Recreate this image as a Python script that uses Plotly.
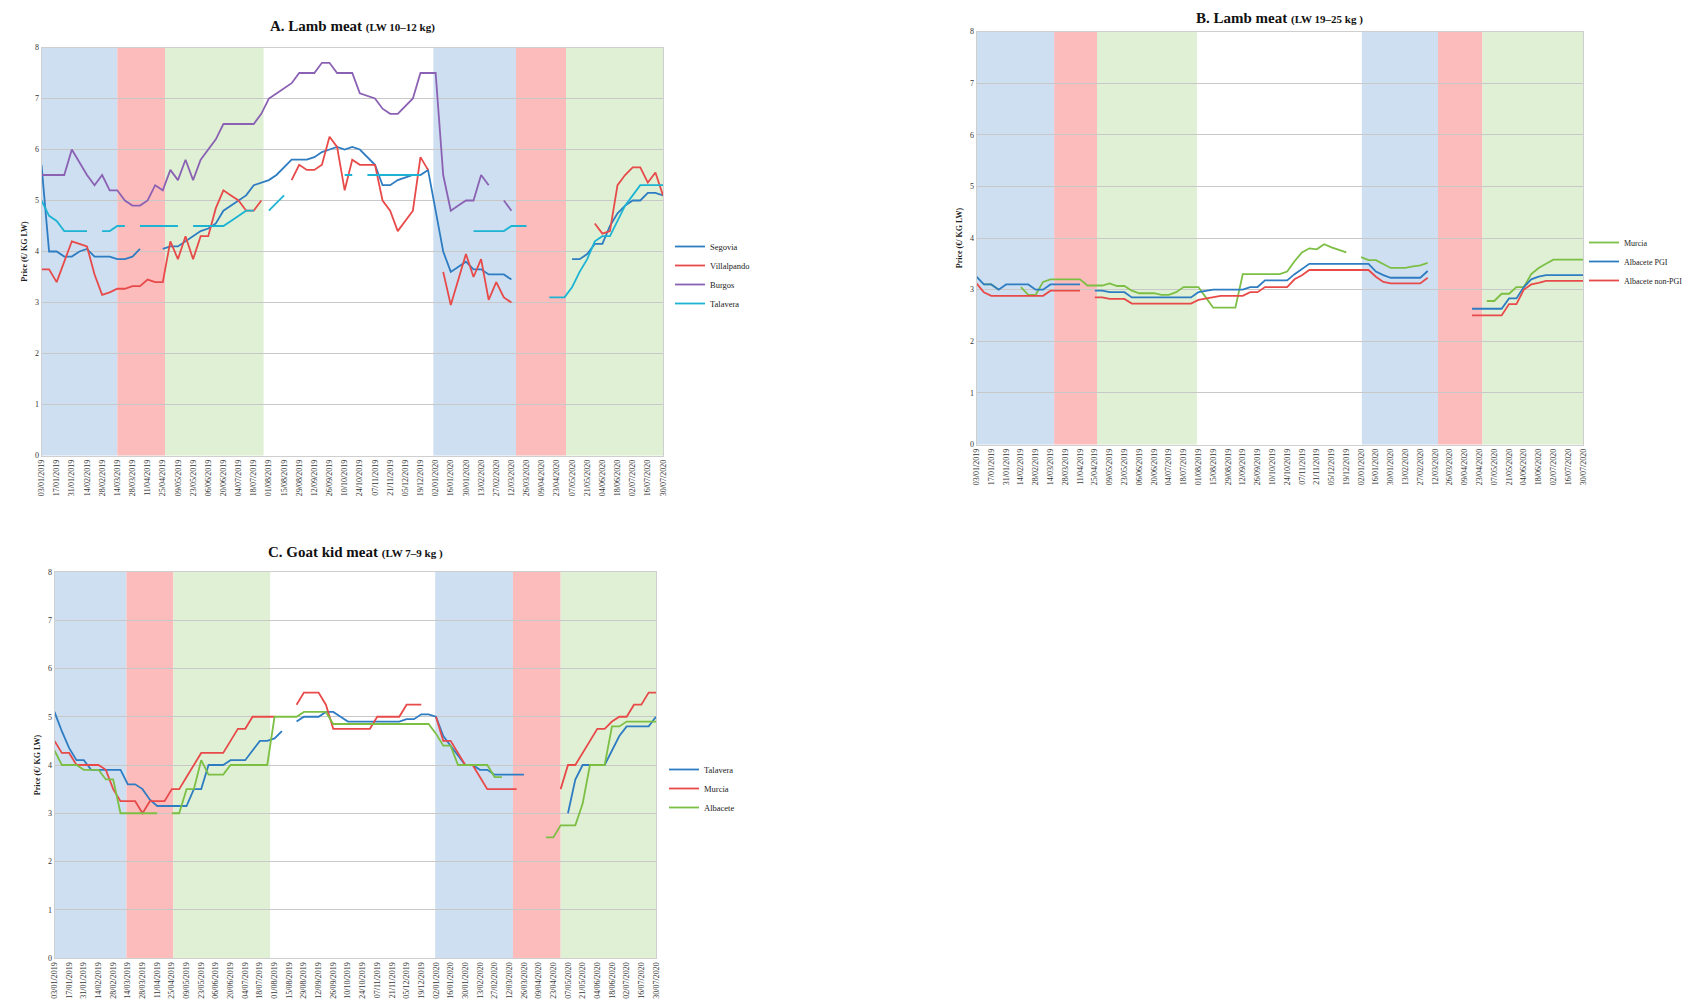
import datetime as dt
import plotly.graph_objects as go

N = 83
start = dt.date(2019, 1, 3)
weeks = list(range(N))
tick_idx = list(range(0, N, 2))
tick_text = [(start + dt.timedelta(weeks=i)).strftime("%d/%m/%Y") for i in tick_idx]

def series(pairs):
    out = [None] * N
    for a, vals in pairs:
        for k, v in enumerate(vals):
            out[a + k] = v
    return out

# ---------- Panel A: Lamb meat (LW 10-12 kg)
A_segovia = series([(0, [5.7, 4.0, 4.0, 3.9, 3.9, 4.0, 4.05, 3.9, 3.9, 3.9, 3.85, 3.85, 3.9, 4.05]),
                    (16, [4.05, 4.1, 4.1, 4.2, 4.3, 4.4, 4.45, 4.55, 4.8, 4.9, 5.0, 5.1, 5.3, 5.35, 5.4, 5.5, 5.65, 5.8, 5.8, 5.8,
                          5.85, 5.95, 6.0, 6.05, 6.0, 6.05, 6.0, 5.85, 5.7, 5.3, 5.3, 5.4, 5.45, 5.5, 5.5, 5.6, 4.8, 4.0, 3.6, 3.7,
                          3.8, 3.65, 3.65, 3.55, 3.55, 3.55, 3.45]),
                    (70, [3.85, 3.85, 3.95, 4.15, 4.15, 4.5, 4.75, 4.9, 5.0, 5.0, 5.15, 5.15, 5.1])])
A_villalpando = series([(0, [3.65, 3.65, 3.4, 3.8, 4.2, 4.15, 4.1, 3.55, 3.15, 3.2, 3.27, 3.27, 3.32, 3.32, 3.45, 3.4, 3.4, 4.2,
                             3.85, 4.3, 3.85, 4.3, 4.3, 4.85, 5.2, 5.1, 5.0, 4.8, 4.8, 5.0]),
                        (33, [5.4, 5.7, 5.6, 5.6, 5.7, 6.25, 6.05, 5.2, 5.8, 5.7, 5.7, 5.7, 5.0, 4.8, 4.4, 4.6, 4.8, 5.85, 5.6]),
                        (53, [3.6, 2.95, 3.45, 3.95, 3.5, 3.85, 3.05, 3.4, 3.1, 3.0]),
                        (73, [4.55, 4.35, 4.4, 5.3, 5.5, 5.65, 5.65, 5.35, 5.55, 5.1])])
A_burgos = series([(0, [5.5, 5.5, 5.5, 5.5, 6.0, 5.75, 5.5, 5.3, 5.5, 5.2, 5.2, 5.0, 4.9, 4.9, 5.0, 5.3, 5.2, 5.6, 5.4, 5.8,
                        5.4, 5.8, 6.0, 6.2, 6.5, 6.5, 6.5, 6.5, 6.5, 6.7, 7.0, 7.1, 7.2, 7.3, 7.5, 7.5, 7.5, 7.7, 7.7, 7.5,
                        7.5, 7.5, 7.1, 7.05, 7.0, 6.8, 6.7, 6.7, 6.85, 7.0, 7.5, 7.5, 7.5, 5.5, 4.8, 4.9, 5.0, 5.0, 5.5, 5.3]),
                   (61, [5.0, 4.8])])
A_talavera = series([(0, [5.0, 4.7, 4.6, 4.4, 4.4, 4.4, 4.4]), (8, [4.4, 4.4, 4.5, 4.5]),
                     (13, [4.5, 4.5, 4.5, 4.5, 4.5, 4.5]), (20, [4.5, 4.5, 4.5, 4.5, 4.5, 4.6, 4.7, 4.8, 4.8]),
                     (30, [4.8, 4.95, 5.1]), (40, [5.5, 5.5]), (43, [5.5, 5.5, 5.5, 5.5, 5.5, 5.5, 5.5, 5.5]),
                     (57, [4.4, 4.4, 4.4, 4.4, 4.4, 4.5, 4.5, 4.5]),
                     (67, [3.1, 3.1, 3.1, 3.3, 3.6, 3.85, 4.2, 4.3, 4.3, 4.6, 4.9, 5.1, 5.3, 5.3, 5.3, 5.3])])

# ---------- Panel B: Lamb meat (LW 19-25 kg)
B_murcia = series([(1, [3.1, 3.1, 3.0]),
                   (6, [3.05, 2.9, 2.9, 3.15, 3.2, 3.2, 3.2, 3.2, 3.2, 3.08, 3.08, 3.08, 3.12, 3.07, 3.07, 2.98, 2.93, 2.93,
                        2.93, 2.9, 2.9, 2.95, 3.05, 3.05, 3.05, 2.85, 2.65, 2.65, 2.65, 2.65, 3.3, 3.3, 3.3, 3.3, 3.3, 3.3,
                        3.35, 3.55, 3.72, 3.8, 3.78, 3.88, 3.82, 3.77, 3.72]),
                   (52, [3.63, 3.57, 3.57, 3.5, 3.42, 3.42, 3.42, 3.45, 3.47, 3.52]),
                   (69, [2.78, 2.78, 2.92, 2.92, 3.05, 3.05, 3.3, 3.42, 3.5, 3.58, 3.58, 3.58, 3.58, 3.58])])
B_pgi = series([(0, [3.25, 3.1, 3.1, 3.0, 3.1, 3.1, 3.1, 3.1, 3.0, 3.0, 3.1, 3.1, 3.1, 3.1, 3.1]),
                (16, [2.98, 2.98, 2.95, 2.95, 2.95, 2.85, 2.85, 2.85, 2.85, 2.85, 2.85, 2.85, 2.85, 2.85, 2.95, 2.97,
                      3.0, 3.0, 3.0, 3.0, 3.0, 3.05, 3.05, 3.18, 3.18, 3.18, 3.18, 3.3, 3.4, 3.5, 3.5, 3.5, 3.5, 3.5,
                      3.5, 3.5, 3.5, 3.5, 3.35, 3.28, 3.23, 3.23, 3.23, 3.23, 3.23, 3.36]),
                (67, [2.63, 2.63, 2.63, 2.63, 2.63, 2.83, 2.83, 3.05, 3.2, 3.25, 3.28, 3.28, 3.28, 3.28, 3.28, 3.28])])
B_nonpgi = series([(0, [3.12, 2.95, 2.88, 2.88, 2.88, 2.88, 2.88, 2.88, 2.88, 2.88, 2.98, 2.98, 2.98, 2.98, 2.98]),
                   (16, [2.85, 2.85, 2.82, 2.82, 2.82, 2.73, 2.73, 2.73, 2.73, 2.73, 2.73, 2.73, 2.73, 2.73, 2.8, 2.83,
                         2.85, 2.88, 2.88, 2.88, 2.88, 2.95, 2.95, 3.05, 3.05, 3.05, 3.05, 3.2, 3.28, 3.38, 3.38, 3.38,
                         3.38, 3.38, 3.38, 3.38, 3.38, 3.38, 3.25, 3.15, 3.12, 3.12, 3.12, 3.12, 3.12, 3.23]),
                   (67, [2.5, 2.5, 2.5, 2.5, 2.5, 2.72, 2.72, 3.0, 3.1, 3.13, 3.17, 3.17, 3.17, 3.17, 3.17, 3.17])])

# ---------- Panel C: Goat kid meat (LW 7-9 kg)
C_talavera = series([(0, [5.1, 4.7, 4.35, 4.1, 4.1, 3.9, 3.9, 3.9, 3.9, 3.9, 3.6, 3.6, 3.5, 3.28, 3.15, 3.15, 3.15, 3.15,
                          3.15, 3.5, 3.5, 4.0, 4.0, 4.0, 4.1, 4.1, 4.1, 4.3, 4.5, 4.5, 4.55, 4.7]),
                     (33, [4.9, 5.0, 5.0, 5.0, 5.1, 5.1, 5.0, 4.9, 4.9, 4.9, 4.9, 4.9, 4.9, 4.9, 4.9, 4.95, 4.95, 5.05, 5.05]),
                     (52, [5.0, 4.6, 4.4, 4.2, 4.0, 4.0, 3.9, 3.9, 3.8, 3.8, 3.8, 3.8, 3.8]),
                     (70, [3.0, 3.7, 4.0, 4.0, 4.0, 4.0, 4.3, 4.6, 4.8, 4.8, 4.8, 4.8, 5.0])])
C_murcia = series([(0, [4.5, 4.25, 4.25, 4.0, 4.0, 4.0, 4.0, 3.9, 3.5, 3.25, 3.25, 3.25, 3.0, 3.25, 3.25, 3.25, 3.5, 3.5,
                        3.75, 4.0, 4.25, 4.25, 4.25, 4.25, 4.5, 4.75, 4.75, 5.0, 5.0, 5.0, 5.0]),
                   (33, [5.25, 5.5, 5.5, 5.5, 5.25, 4.75, 4.75, 4.75, 4.75, 4.75, 4.75, 5.0, 5.0, 5.0, 5.0, 5.25, 5.25, 5.25]),
                   (52, [5.0, 4.5, 4.5, 4.25, 4.0, 4.0, 3.75, 3.5, 3.5, 3.5, 3.5, 3.5]),
                   (69, [3.5, 4.0, 4.0, 4.25, 4.5, 4.75, 4.75, 4.9, 5.0, 5.0, 5.25, 5.25, 5.5, 5.5])])
C_albacete = series([(0, [4.3, 4.0, 4.0, 4.0, 3.9, 3.9, 3.9, 3.7, 3.7, 3.0, 3.0, 3.0, 3.0, 3.0, 3.0]),
                     (16, [3.0, 3.0, 3.5, 3.5, 4.1, 3.8, 3.8, 3.8, 4.0, 4.0, 4.0, 4.0, 4.0, 4.0, 5.0, 5.0, 5.0, 5.0,
                           5.1, 5.1, 5.1, 5.1, 4.85, 4.85, 4.85, 4.85, 4.85, 4.85, 4.85, 4.85, 4.85, 4.85, 4.85, 4.85,
                           4.85, 4.85, 4.65, 4.4, 4.4, 4.0, 4.0, 4.0, 4.0, 4.0, 3.75, 3.75]),
                     (67, [2.5, 2.5, 2.75, 2.75, 2.75, 3.2, 4.0, 4.0, 4.0, 4.8, 4.8, 4.9, 4.9, 4.9, 4.9, 4.9])])

W, H = 1695, 1006
BLUE, RED, PURPLE, CYAN, GREEN = "#2e7cc2", "#e84a4a", "#8b62b3", "#1db4d4", "#7cbf44"
BAND_COLORS = ["#cddff0", "#fdbcbc", "#dff0d5", "#cddff0", "#fdbcbc", "#dff0d5"]
SERIF = "Liberation Serif"

panels = [
    dict(px=(33.5, 655), py=(39.5, 447.5), bands=[0, 10, 16.3, 29.3, 51.7, 62.6, 69.2, 82],
         title="<b>A. Lamb meat</b> <span style='font-size:11px'><b>(LW 10–12 kg)</b></span>", ty=18,
         legend=(662, 224), lfont=8.5, series=[("Segovia", A_segovia, BLUE), ("Villalpando", A_villalpando, RED),
                                                ("Burgos", A_burgos, PURPLE), ("Talavera", A_talavera, CYAN)]),
    dict(px=(968.5, 1575), py=(23.5, 436.5), bands=[0, 10.5, 16.3, 29.8, 52.1, 62.4, 68.4, 82],
         title="<b>B. Lamb meat</b> <span style='font-size:11px'><b>(LW 19–25 kg )</b></span>", ty=10,
         legend=(1576, 220), lfont=8, series=[("Murcia", B_murcia, GREEN), ("Albacete PGI", B_pgi, BLUE),
                                               ("Albacete non-PGI", B_nonpgi, RED)]),
    dict(px=(46.5, 648), py=(564, 950), bands=[0, 9.8, 16.2, 29.4, 51.9, 62.5, 69.0, 82],
         title="<b>C. Goat kid meat</b> <span style='font-size:11px'><b>(LW 7–9 kg )</b></span>", ty=544,
         legend=(656, 747), lfont=8.5, series=[("Talavera", C_talavera, BLUE), ("Murcia", C_murcia, RED),
                                                ("Albacete", C_albacete, GREEN)]),
]

fig = go.Figure()
shapes, annotations = [], []
for k, p in enumerate(panels):
    sfx = "" if k == 0 else str(k + 1)
    xa, ya = "xaxis" + sfx, "yaxis" + sfx
    lg = "legend" if k == 0 else "legend" + str(k + 1)
    for name, ys, col in p["series"]:
        fig.add_trace(go.Scatter(x=weeks, y=ys, name=name, mode="lines", line=dict(color=col, width=1.8),
                                 connectgaps=False, xaxis="x" + sfx, yaxis="y" + sfx, legend=lg))
    b = p["bands"]
    segs = [(b[0], b[1]), (b[1], b[2]), (b[2], b[3]), (b[4], b[5]), (b[5], b[6]), (b[6], b[7])]
    for (lo, hi), c in zip(segs, BAND_COLORS):
        shapes.append(dict(type="rect", xref="x" + sfx, yref="y" + sfx + " domain", x0=lo, x1=hi, y0=0, y1=1,
                           fillcolor=c, line_width=0, layer="below"))
    x0, x1 = p["px"]; y0, y1 = p["py"]
    fig.layout[xa] = dict(domain=[x0 / W, x1 / W], range=[0, 82], tickvals=tick_idx, ticktext=tick_text,
                          tickangle=-90, tickfont=dict(size=8, family=SERIF, color="#333"), showgrid=False,
                          showline=True, linecolor="#cfcfcf", mirror=True, zeroline=False, anchor="y" + sfx,
                          ticks="", automargin=False)
    fig.layout[ya] = dict(domain=[1 - y1 / H, 1 - y0 / H], range=[0, 8], dtick=1, showgrid=True, gridcolor="#c8c8c8",
                          tickfont=dict(size=8, family=SERIF, color="#333"), showline=True, linecolor="#cfcfcf",
                          mirror=True, zeroline=False, anchor="x" + sfx, layer="above traces", automargin=False,
                          title=dict(text="<b>Price (€/ KG LW)</b>", font=dict(size=8, family=SERIF, color="#222"),
                                     standoff=6))
    annotations.append(dict(text=p["title"], xref="paper", yref="paper", x=(x0 + x1) / 2 / W, y=1 - p["ty"] / H,
                            xanchor="center", yanchor="middle", showarrow=False,
                            font=dict(size=15, family=SERIF, color="#111")))
    lx, ly = p["legend"]
    fig.layout[lg] = dict(x=lx / W, y=1 - ly / H, xanchor="left", yanchor="top", bgcolor="rgba(0,0,0,0)",
                          font=dict(size=p["lfont"], family=SERIF, color="#222"), itemwidth=30, tracegroupgap=0)

fig.update_layout(width=W, height=H, margin=dict(l=0, r=0, t=0, b=0, autoexpand=False), plot_bgcolor="white",
                  paper_bgcolor="white", shapes=shapes, annotations=annotations, showlegend=True)
fig.write_html("out.html")
